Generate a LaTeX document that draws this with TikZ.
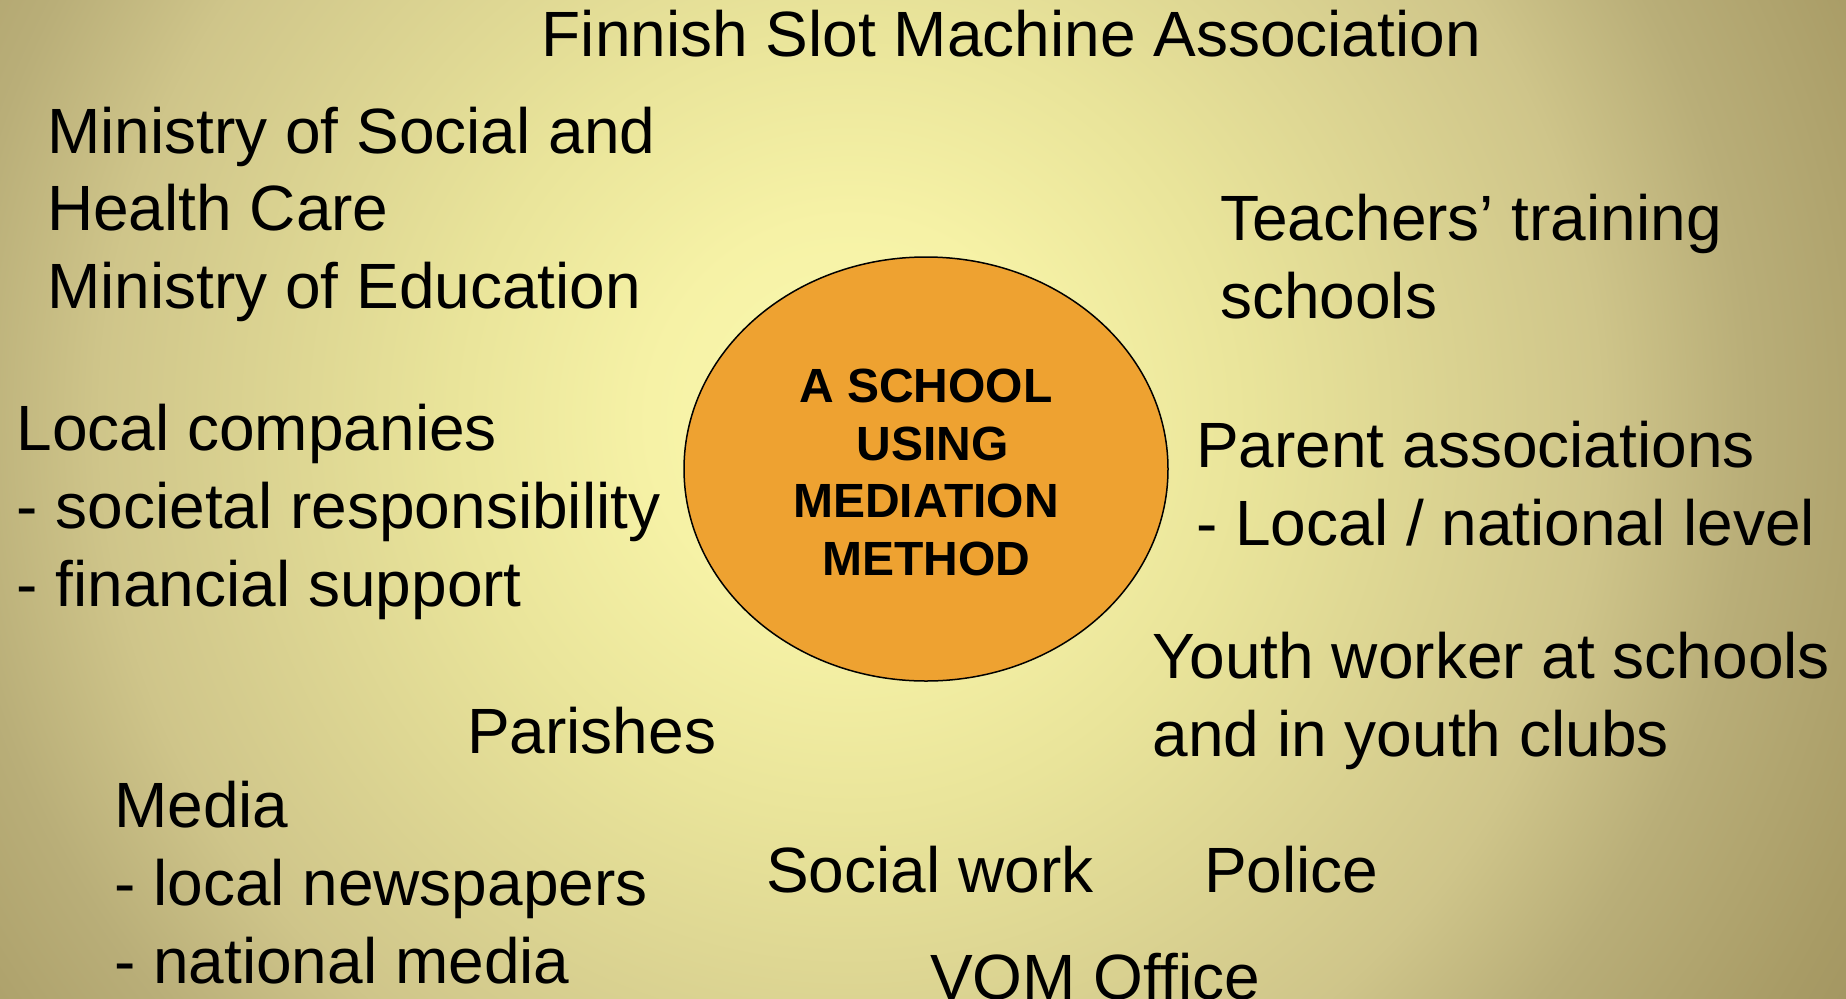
\documentclass[tikz,border=0pt]{standalone}
\usepackage{fontspec}
\setmainfont{Liberation Sans}
\pgfdeclareradialshading{bgshade}{\pgfpoint{0bp}{0bp}}{%
rgb(0bp)=(0.980,0.973,0.690);%
rgb(4.17bp)=(0.965,0.949,0.651);%
rgb(8.33bp)=(0.914,0.894,0.604);%
rgb(15.6bp)=(0.812,0.773,0.541);%
rgb(18.75bp)=(0.725,0.682,0.471);%
rgb(22.9bp)=(0.659,0.608,0.396);%
rgb(25bp)=(0.627,0.576,0.376);%
rgb(50bp)=(0.627,0.576,0.376)}
\definecolor{hub}{HTML}{EEA231}
\begin{document}
\begin{tikzpicture}[x=1pt,y=-1pt,
  lbl/.style={anchor=base west,inner sep=0pt,align=left,font=\fontsize{64}{77.7}\selectfont},
  hubtxt/.style={anchor=base,inner sep=0pt,align=center,font=\fontsize{48}{57.4}\selectfont\bfseries}]
\useasboundingbox (0,0) rectangle (1846,998);
\begin{scope}
\clip (0,0) rectangle (1846,998);
\shade[shading=bgshade] (850,420) circle (1200);
\draw[fill=hub,line width=1.5pt] (926,469) ellipse (242 and 212);
\node[hubtxt] (hub) at (926,575) {A SCHOOL\\\ USING\\MEDIATION\\METHOD};
\node[lbl] (fsma) at (541.5,56.5) {Finnish Slot Machine Association};
\node[lbl] (min) at (47,308.4) {Ministry of Social and\\Health Care\\Ministry of Education};
\node[lbl] (teach) at (1220,318) {Teachers’ training\\schools};
\node[lbl] (local) at (16.5,606) {Local companies\\- societal responsibility\\- financial support};
\node[lbl] (parent) at (1196,545) {Parent associations\\- Local / national level};
\node[lbl] (youth) at (1152.6,756) {Youth worker at schools\\and in youth clubs};
\node[lbl] (par) at (467,753.5) {Parishes};
\node[lbl] (media) at (114,983) {Media\\- local newspapers\\- national media};
\node[lbl] (social) at (766,892.4) {Social work};
\node[lbl] (police) at (1204,892.4) {Police};
\node[lbl] (vom) at (930,999) {VOM Office};
\end{scope}
\end{tikzpicture}
\end{document}
